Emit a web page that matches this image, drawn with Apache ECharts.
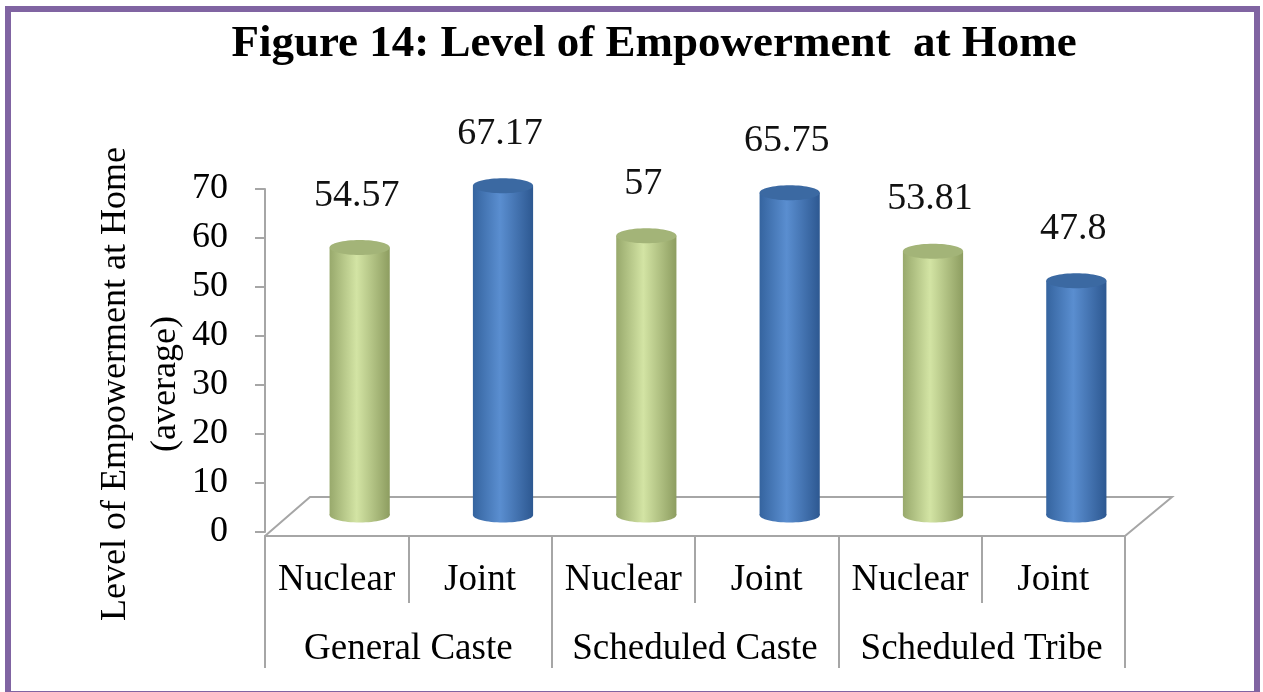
<!DOCTYPE html>
<html lang="en">
<head>
    <meta charset="UTF-8">
    <title>Figure 14: Level of Empowerment at Home</title>
    <script src="https://cdn.jsdelivr.net/npm/echarts@6/dist/echarts.min.js"></script>
    <style>
        html, body { margin: 0; padding: 0; background: #fff; }
    </style>
</head>
<body>
<div id="mybox" style="width: 1263px;height: 692px;"></div>
<script>
    // data
    var categories = ['Nuclear', 'Joint', 'Nuclear', 'Joint', 'Nuclear', 'Joint'];
    var groups = ['General Caste', 'Scheduled Caste', 'Scheduled Tribe'];
    var values = [54.57, 67.17, 57, 65.75, 53.81, 47.8];
    var valueLabels = ['54.57', '67.17', '57', '65.75', '53.81', '47.8'];
    var yTicks = [0, 10, 20, 30, 40, 50, 60, 70];

    var serif = '"Liberation Serif", "Times New Roman", serif';
    var gray = '#a6a6a6';

    // left edge / middle / right edge / top cap
    var greenTube = ['#98a96c', '#d3e4a4', '#8d9d60', '#a3b478'];
    var blueTube = ['#35649f', '#5a8ed0', '#2d5891', '#3b69a2'];

    var mychart = echarts.init(document.getElementById('mybox'));

    function renderTube(params, api) {
        var i = api.value(0);
        var v = api.value(1);
        var top = api.coord([i, v]);
        var base = api.coord([i, 0]);
        var w = api.size([1, 0])[0] * 0.42;
        // bars stand halfway into the 3D floor
        var cx = top[0] + 23;
        var ty = top[1] - 17;
        var by = base[1] - 17;
        var ry = 7.5;
        var pal = categories[i] === 'Nuclear' ? greenTube : blueTube;
        var grad = new echarts.graphic.LinearGradient(0, 0, 1, 0, [
            {offset: 0, color: pal[0]},
            {offset: 0.45, color: pal[1]},
            {offset: 1, color: pal[2]}
        ]);
        return {
            type: 'group',
            children: [
                {type: 'ellipse', shape: {cx: cx, cy: by, rx: w / 2, ry: ry}, style: {fill: grad}},
                {type: 'rect', shape: {x: cx - w / 2, y: ty, width: w, height: by - ty}, style: {fill: grad}},
                {type: 'ellipse', shape: {cx: cx, cy: ty, rx: w / 2, ry: ry}, style: {fill: pal[3]}},
                {
                    type: 'text',
                    style: {
                        text: valueLabels[i], x: cx - 3, y: ty - 52,
                        align: 'center', verticalAlign: 'middle',
                        font: '38px ' + serif, fill: '#111'
                    }
                }
            ]
        };
    }

    mychart.setOption({
        animation: false,
        grid: {left: 265, right: 138, top: 189, bottom: 160},
        xAxis: [{
            type: 'category',
            data: categories,
            position: 'bottom',
            offset: 4,
            axisLine: {onZero: false, lineStyle: {color: gray, width: 2}},
            axisTick: {show: true, length: 67, lineStyle: {color: gray, width: 2}},
            axisLabel: {margin: 26, fontFamily: serif, fontSize: 37, color: '#000', interval: 0}
        }, {
            type: 'category',
            data: groups,
            position: 'bottom',
            offset: 4,
            axisLine: {onZero: false, lineStyle: {color: gray, width: 2}},
            axisTick: {show: true, length: 132, lineStyle: {color: gray, width: 2}},
            axisLabel: {margin: 95, fontFamily: serif, fontSize: 37, color: '#000', interval: 0}
        }],
        yAxis: {
            type: 'value',
            min: yTicks[0],
            max: yTicks[yTicks.length - 1],
            interval: 10,
            axisLine: {show: true, lineStyle: {color: gray, width: 2}},
            axisTick: {show: true, length: 10, lineStyle: {color: gray, width: 2}},
            axisLabel: {margin: 37, fontFamily: serif, fontSize: 36, color: '#000'},
            splitLine: {show: false}
        },
        graphic: [
            {
                // purple frame, bottom edge runs off the picture
                type: 'rect',
                shape: {x: 8, y: 9, width: 1249, height: 685},
                style: {fill: 'none', stroke: '#8064a2', lineWidth: 6}
            },
            {
                type: 'text',
                x: 654, y: 44,
                style: {
                    text: 'Figure 14: Level of Empowerment  at Home',
                    align: 'center', verticalAlign: 'middle',
                    font: 'bold 45px ' + serif, fill: '#000'
                }
            },
            {
                // back edge of 3D floor
                type: 'polyline',
                shape: {points: [[265, 536], [310, 497], [1172, 497], [1125, 536]]},
                style: {fill: 'none', stroke: gray, lineWidth: 2},
                z: 1
            },
            {
                type: 'text',
                x: 141, y: 384,
                rotation: Math.PI / 2,
                style: {
                    text: 'Level of Empowerment at Home\n(average)',
                    align: 'center', verticalAlign: 'middle',
                    font: '36px ' + serif, fill: '#000', lineHeight: 50
                }
            }
        ],
        series: [{
            type: 'custom',
            xAxisIndex: 0,
            renderItem: renderTube,
            data: values.map(function (v, i) { return [i, v]; }),
            z: 5
        }]
    });
</script>
</body>
</html>
